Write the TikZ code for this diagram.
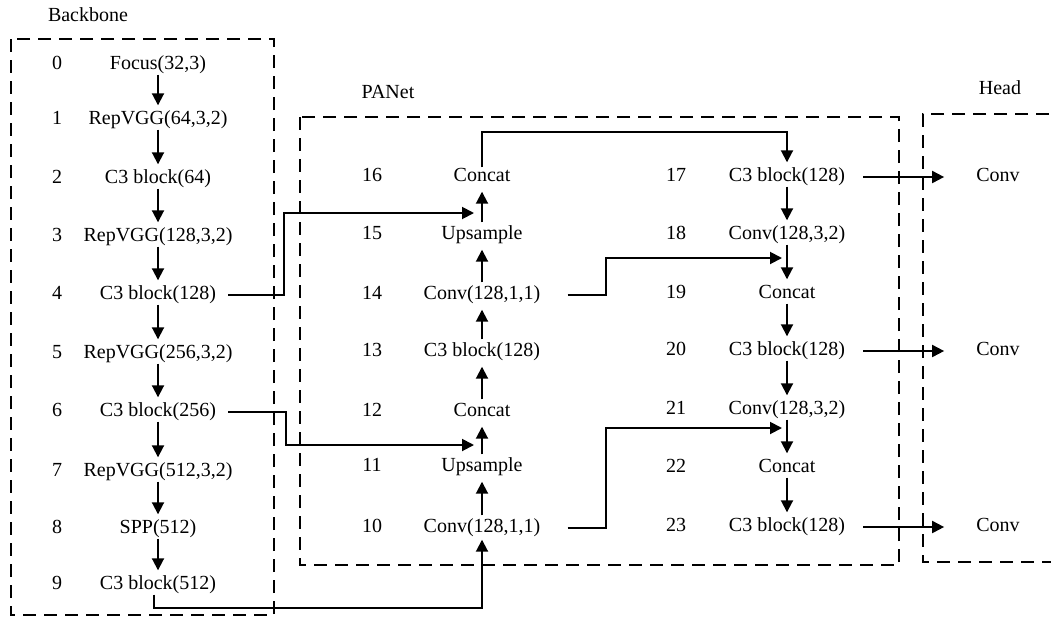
\documentclass[tikz,border=0pt]{standalone}
\usepackage{fontspec}
\setmainfont{Liberation Serif}
\usetikzlibrary{arrows.meta}
\begin{document}
\begin{tikzpicture}[x=1pt,y=-1pt,
  lbl/.style={inner sep=0pt,text height=14pt,text depth=5pt,yshift=-2pt,font=\fontsize{20}{24}\selectfont},
  arr/.style={line width=1.9pt,-{Triangle[length=12pt,width=12pt]}},
  grp/.style={line width=1.9pt,dash pattern=on 13pt off 8pt}]
\useasboundingbox (0,0) rectangle (1051,619);
\clip (0,0) rectangle (1051,619);
% group frames
\draw[grp] (11,39) rectangle (274,615);
\draw[grp] (300,117) rectangle (899,565);
\draw[grp] (1070,114) -- (923,114) -- (923,562) -- (1070,562);
\node[lbl] (tb) at (88,15) {Backbone};
\node[lbl] (tp) at (388,92) {PANet};
\node[lbl] (th) at (1000,88) {Head};
% backbone
\node[lbl] (nb0) at (57,63) {0};   \node[lbl] (b0) at (158,63) {Focus(32,3)};
\node[lbl] (nb1) at (57,118) {1};  \node[lbl] (b1) at (158,118) {RepVGG(64,3,2)};
\node[lbl] (nb2) at (57,177) {2};  \node[lbl] (b2) at (158,177) {C3 block(64)};
\node[lbl] (nb3) at (57,235) {3};  \node[lbl] (b3) at (158,235) {RepVGG(128,3,2)};
\node[lbl] (nb4) at (57,293) {4};  \node[lbl] (b4) at (158,293) {C3 block(128)};
\node[lbl] (nb5) at (57,352) {5};  \node[lbl] (b5) at (158,352) {RepVGG(256,3,2)};
\node[lbl] (nb6) at (57,410) {6};  \node[lbl] (b6) at (158,410) {C3 block(256)};
\node[lbl] (nb7) at (57,470) {7};  \node[lbl] (b7) at (158,470) {RepVGG(512,3,2)};
\node[lbl] (nb8) at (57,527) {8};  \node[lbl] (b8) at (158,527) {SPP(512)};
\node[lbl] (nb9) at (57,583) {9};  \node[lbl] (b9) at (158,583) {C3 block(512)};
\foreach \a/\b in {b0/b1,b1/b2,b2/b3,b3/b4,b4/b5,b5/b6,b6/b7,b7/b8,b8/b9}
  \draw[arr,shorten >=5pt] (\a.south) -- (\b.north);
% PANet column 1
\node[lbl] (np16) at (372,175) {16}; \node[lbl] (p16) at (482,175) {Concat};
\node[lbl] (np15) at (372,233) {15}; \node[lbl] (p15) at (482,233) {Upsample};
\node[lbl] (np14) at (372,293) {14}; \node[lbl] (p14) at (482,293) {Conv(128,1,1)};
\node[lbl] (np13) at (372,350) {13}; \node[lbl] (p13) at (482,350) {C3 block(128)};
\node[lbl] (np12) at (372,410) {12}; \node[lbl] (p12) at (482,410) {Concat};
\node[lbl] (np11) at (372,465) {11}; \node[lbl] (p11) at (482,465) {Upsample};
\node[lbl] (np10) at (372,526) {10}; \node[lbl] (p10) at (482,526) {Conv(128,1,1)};
\foreach \a/\b in {p10/p11,p11/p12,p12/p13,p13/p14,p14/p15,p15/p16}
  \draw[arr,shorten <=3pt,shorten >=5pt] (\a.north) -- (\b.south);
% PANet column 2
\node[lbl] (nq17) at (676,175) {17}; \node[lbl] (q17) at (787,175) {C3 block(128)};
\node[lbl] (nq18) at (676,233) {18}; \node[lbl] (q18) at (787,233) {Conv(128,3,2)};
\node[lbl] (nq19) at (676,292) {19}; \node[lbl] (q19) at (787,292) {Concat};
\node[lbl] (nq20) at (676,349) {20}; \node[lbl] (q20) at (787,349) {C3 block(128)};
\node[lbl] (nq21) at (676,408) {21}; \node[lbl] (q21) at (787,408) {Conv(128,3,2)};
\node[lbl] (nq22) at (676,466) {22}; \node[lbl] (q22) at (787,466) {Concat};
\node[lbl] (nq23) at (676,525) {23}; \node[lbl] (q23) at (787,525) {C3 block(128)};
\foreach \a/\b in {q17/q18,q18/q19,q19/q20,q20/q21,q21/q22,q22/q23}
  \draw[arr,shorten >=5pt] (\a.south) -- (\b.north);
% Head
\node[lbl] (h17) at (998,175) {Conv};
\node[lbl] (h20) at (998,349) {Conv};
\node[lbl] (h23) at (998,525) {Conv};
\foreach \a/\b in {q17/h17,q20/h20,q23/h23}
  \draw[arr,shorten >=32pt] ([xshift=18pt]\a.east) -- (\b.west);
% cross connections
\coordinate (j15) at (482,213);
\coordinate (j12) at (482,445);
\coordinate (j19) at (787,258);
\coordinate (j22) at (787,428);
\draw[arr,shorten >=8pt] ([xshift=12pt]b4.east) -| (284,213) -- (j15);
\draw[arr,shorten >=8pt] ([xshift=12pt]b6.east) -| (286,445) -- (j12);
\draw[arr,shorten >=2pt] ([xshift=-4pt]b9.south) -- ++(0,13) -| (p10.south);
\draw[arr,shorten >=5pt] (p16.north) -- ++(0,-35) -| (q17.north);
\draw[arr,shorten >=5pt] ([xshift=27pt]p14.east) -| (606,258) -- (j19);
\draw[arr,shorten >=5pt] ([xshift=27pt]p10.east) -| (606,428) -- (j22);
\end{tikzpicture}
\end{document}
